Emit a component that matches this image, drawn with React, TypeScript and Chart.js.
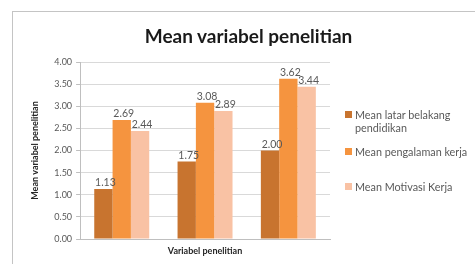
import React, { useEffect, useRef } from "react";
import { Chart, registerables } from "chart.js";

Chart.register(...registerables);

const categories = ["1", "2", "3"];
const seriesNames = ["Mean latar belakang pendidikan", "Mean pengalaman kerja", "Mean Motivasi Kerja"];
const legendLines = [["Mean latar belakang", "pendidikan"], ["Mean pengalaman kerja"], ["Mean Motivasi Kerja"]];
const latarBelakang = [1.13, 1.75, 2.0];
const pengalaman = [2.69, 3.08, 3.62];
const motivasi = [2.44, 2.89, 3.44];
const colors = ["#C8742F", "#F5943F", "#F9C2A4"];
const titleText = "Mean variabel penelitian";
const yTitle = "Mean variabel penelitian";
const xTitle = "Variabel penelitian";

const FONT = "Lato, 'Open Sans', sans-serif";

const valueLabels = {
  id: "valueLabels",
  afterDatasetsDraw(chart: any) {
    const ctx = chart.ctx;
    ctx.save();
    ctx.font = `10.5px ${FONT}`;
    ctx.fillStyle = "#595959";
    ctx.textAlign = "center";
    ctx.textBaseline = "bottom";
    chart.data.datasets.forEach((ds: any, i: number) => {
      const meta = chart.getDatasetMeta(i);
      meta.data.forEach((bar: any, j: number) => {
        ctx.fillText(ds.data[j].toFixed(2), bar.x + 2, bar.y - 1);
      });
    });
    ctx.restore();
  },
};

export default function App() {
  const ref = useRef<HTMLCanvasElement>(null);
  useEffect(() => {
    document.body.style.margin = "0";
    const chart = new Chart(ref.current!, {
      type: "bar",
      data: {
        labels: categories,
        datasets: [latarBelakang, pengalaman, motivasi].map((d, i) => ({
          label: seriesNames[i],
          data: d,
          backgroundColor: colors[i],
          barPercentage: 1,
          categoryPercentage: 0.66,
        })),
      },
      options: {
        animation: false,
        responsive: false,
        maintainAspectRatio: false,
        layout: { padding: { left: 30, right: 145, top: 62, bottom: 0 } },
        plugins: {
          legend: { display: false },
          tooltip: { enabled: false },
          title: { display: false },
        },
        scales: {
          x: {
            ticks: { display: false },
            grid: { display: false, drawTicks: false },
            border: { color: "#bfbfbf" },
            afterFit: (s: any) => {
              s.height = 25;
            },
            title: {
              display: true,
              text: xTitle,
              color: "#262626",
              font: { family: FONT, size: 9, weight: "bold" },
              padding: { top: 4, bottom: 8 },
            },
          },
          y: {
            min: 0,
            max: 4,
            ticks: {
              stepSize: 0.5,
              color: "#595959",
              font: { family: FONT, size: 9 },
              callback: (v: any) => Number(v).toFixed(2),
              padding: 4,
            },
            grid: { color: "#d9d9d9", tickLength: 4, tickColor: "#bfbfbf" },
            border: { color: "#bfbfbf" },
            title: {
              display: true,
              text: yTitle,
              color: "#262626",
              font: { family: FONT, size: 9, weight: "bold" },
              padding: { top: 0, bottom: 9.5 },
            },
          },
        },
      },
      plugins: [valueLabels],
    });
    return () => chart.destroy();
  }, []);

  return (
    <div style={{ position: "relative", width: 475, height: 264, overflow: "hidden", background: "#fff" }}>
      <div
        style={{
          position: "absolute",
          left: 12,
          top: 11,
          width: 480,
          height: 270,
          border: "1px solid #c4c4c4",
          boxSizing: "border-box",
        }}
      />
      <canvas ref={ref} width={475} height={264} style={{ position: "absolute", left: 0, top: 0 }} />
      <div
        style={{
          position: "absolute",
          left: 140,
          width: 217,
          top: 24,
          textAlign: "center",
          whiteSpace: "nowrap",
          fontFamily: FONT,
          fontWeight: "bold",
          fontSize: 19,
          lineHeight: "24px",
          color: "#1a1a1a",
        }}
      >
        {titleText}
      </div>
      {legendLines.map((lines, i) => (
        <div
          key={i}
          style={{
            position: "absolute",
            left: 345,
            top: [108, 145, 180][i],
            fontFamily: FONT,
            fontSize: 10.8,
            lineHeight: "13px",
            color: "#595959",
            display: "flex",
            whiteSpace: "nowrap",
          }}
        >
          <span
            style={{
              width: 7,
              height: 7,
              background: colors[i],
              marginTop: 3,
              marginRight: 3,
              flex: "none",
            }}
          />
          <span>
            {lines.map((l, k) => (
              <div key={k}>{l}</div>
            ))}
          </span>
        </div>
      ))}
    </div>
  );
}
